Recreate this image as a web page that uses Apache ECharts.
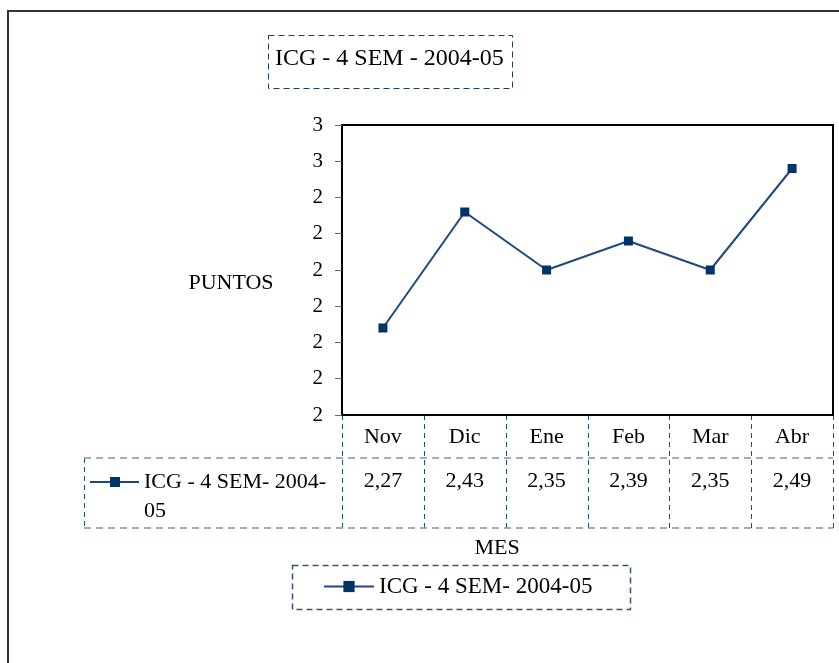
<!DOCTYPE html>
<html>
<head>
<meta charset="utf-8">
<script src="https://cdn.jsdelivr.net/npm/echarts@6/dist/echarts.min.js"></script>
<style>
	html, body { margin: 0; padding: 0; background: #fff; }
	#main { width: 839px; height: 663px; }
</style>
</head>
<body>
<div id="main"></div>
<script>
// datos de la serie
var meses = ["Nov", "Dic", "Ene", "Feb", "Mar", "Abr"];
var puntos = [2.27, 2.43, 2.35, 2.39, 2.35, 2.49];
var serieNombre = "ICG - 4 SEM- 2004-05";
var titulo = "ICG - 4 SEM - 2004-05";
var yMin = 2.15, yMax = 2.55, yPaso = 0.05;

var FONT = "Liberation Serif";
var AZUL = "#1f497d";
var AZUL_MARCA = "#003366";

// valor con coma decimal
function coma(v) {
	return v.toFixed(2).replace(".", ",");
}

var chart = echarts.init(document.getElementById("main"));

var option = {
	backgroundColor: "#fff",
	animation: false,
	textStyle: { fontFamily: FONT },
	grid: {
		left: 342, right: 6, top: 125, bottom: 248,
		show: true, borderColor: "#000", borderWidth: 2,
		containLabel: false
	},
	legend: {
		left: 323, top: 575, padding: 0,
		itemWidth: 50, itemHeight: 14,
		textStyle: { fontFamily: FONT, fontSize: 23, color: "#000" },
		data: [serieNombre]
	},
	xAxis: [{
		type: "category",
		data: meses,
		boundaryGap: true,
		axisLine: { lineStyle: { color: "#000", width: 2 } },
		axisTick: { show: false },
		axisLabel: { fontFamily: FONT, fontSize: 22, color: "#000", margin: 11 }
	}, {
		type: "category",
		position: "bottom",
		offset: 44,
		data: puntos.map(coma),
		axisLine: { show: false },
		axisTick: { show: false },
		axisLabel: { fontFamily: FONT, fontSize: 22, color: "#000", margin: 11 }
	}],
	yAxis: {
		type: "value",
		min: yMin, max: yMax, interval: yPaso,
		axisLine: { show: true, lineStyle: { color: "#000", width: 2 } },
		axisTick: { show: true, length: 7, lineStyle: { color: "#666" } },
		splitLine: { show: false },
		axisLabel: {
			fontFamily: FONT, fontSize: 21, color: "#000", margin: 19,
			formatter: function(v) { return String(Math.round(v + 1e-9)); }
		}
	},
	series: [{
		name: serieNombre,
		type: "line",
		data: puntos,
		symbol: "rect",
		symbolSize: 9,
		lineStyle: { color: AZUL, width: 2 },
		itemStyle: { color: AZUL_MARCA },
		emphasis: { disabled: true }
	}]
};
chart.setOption(option);

// tabla de datos, cajas y textos sueltos
function dibujarExtras() {
	var x0 = chart.convertToPixel({ xAxisIndex: 0 }, 0);
	var x1 = chart.convertToPixel({ xAxisIndex: 0 }, 1);
	var medio = (x1 - x0) / 2;
	var yBase = chart.convertToPixel({ yAxisIndex: 0 }, yMin);
	var yFila = yBase + 43;
	var yFin = yBase + 113;
	var xIzq = 84;
	var g = [];
	var trazoV = { stroke: "#1f4e79", lineWidth: 1, lineDash: [5, 4] };
	var trazoH = { stroke: "#7f93ad", lineWidth: 1.5, lineDash: [7, 5] };

	// marco exterior
	g.push({ type: "rect", shape: { x: 8, y: 11, width: 900, height: 700 }, style: { fill: null, stroke: "#333", lineWidth: 2 }, silent: true });

	// lineas verticales de la tabla
	for (var i = 0; i <= meses.length; i++) {
		var xb = Math.round(x0 - medio + i * medio * 2) + 0.5;
		g.push({ type: "line", shape: { x1: xb, y1: yBase, x2: xb, y2: yFin }, style: trazoV, silent: true });
	}
	g.push({ type: "line", shape: { x1: xIzq + 0.5, y1: yFila, x2: xIzq + 0.5, y2: yFin }, style: trazoV, silent: true });
	// lineas horizontales
	var xDer = Math.round(x0 - medio + meses.length * medio * 2);
	g.push({ type: "line", shape: { x1: xIzq, y1: yFila, x2: xDer, y2: yFila }, style: trazoH, silent: true });
	g.push({ type: "line", shape: { x1: xIzq, y1: yFin, x2: xDer, y2: yFin }, style: trazoH, silent: true });

	// leyenda dentro de la tabla
	var yl = yFila + 24;
	g.push({ type: "line", shape: { x1: 90, y1: yl, x2: 139, y2: yl }, style: { stroke: AZUL, lineWidth: 2 }, silent: true });
	g.push({ type: "rect", shape: { x: 110, y: yl - 5, width: 10, height: 10 }, style: { fill: AZUL_MARCA }, silent: true });
	g.push({ type: "text", x: 144, y: yl, style: { text: "ICG - 4 SEM- 2004-", font: "22px " + FONT, fill: "#000", verticalAlign: "middle" }, silent: true });
	g.push({ type: "text", x: 144, y: yl + 29, style: { text: "05", font: "22px " + FONT, fill: "#000", verticalAlign: "middle" }, silent: true });

	// caja del titulo
	g.push({ type: "rect", shape: { x: 268.5, y: 35.5, width: 244, height: 53 }, style: { fill: null, stroke: "#1f3c64", lineWidth: 1, lineDash: [6, 4] }, silent: true });
	g.push({ type: "text", x: 275, y: 59, style: { text: titulo, font: "24px " + FONT, fill: "#000", verticalAlign: "middle" }, silent: true });

	// caja de la leyenda
	g.push({ type: "rect", shape: { x: 292.5, y: 565.5, width: 338, height: 44 }, style: { fill: null, stroke: "#3b5272", lineWidth: 1.5, lineDash: [6, 4] }, silent: true });

	// nombres de ejes
	g.push({ type: "text", x: 231, y: 283, style: { text: "PUNTOS", font: "22px " + FONT, fill: "#000", align: "center", verticalAlign: "middle" }, silent: true });
	g.push({ type: "text", x: 497, y: 548, style: { text: "MES", font: "22px " + FONT, fill: "#000", align: "center", verticalAlign: "middle" }, silent: true });

	chart.setOption({ graphic: g });
}
dibujarExtras();
</script>
</body>
</html>
